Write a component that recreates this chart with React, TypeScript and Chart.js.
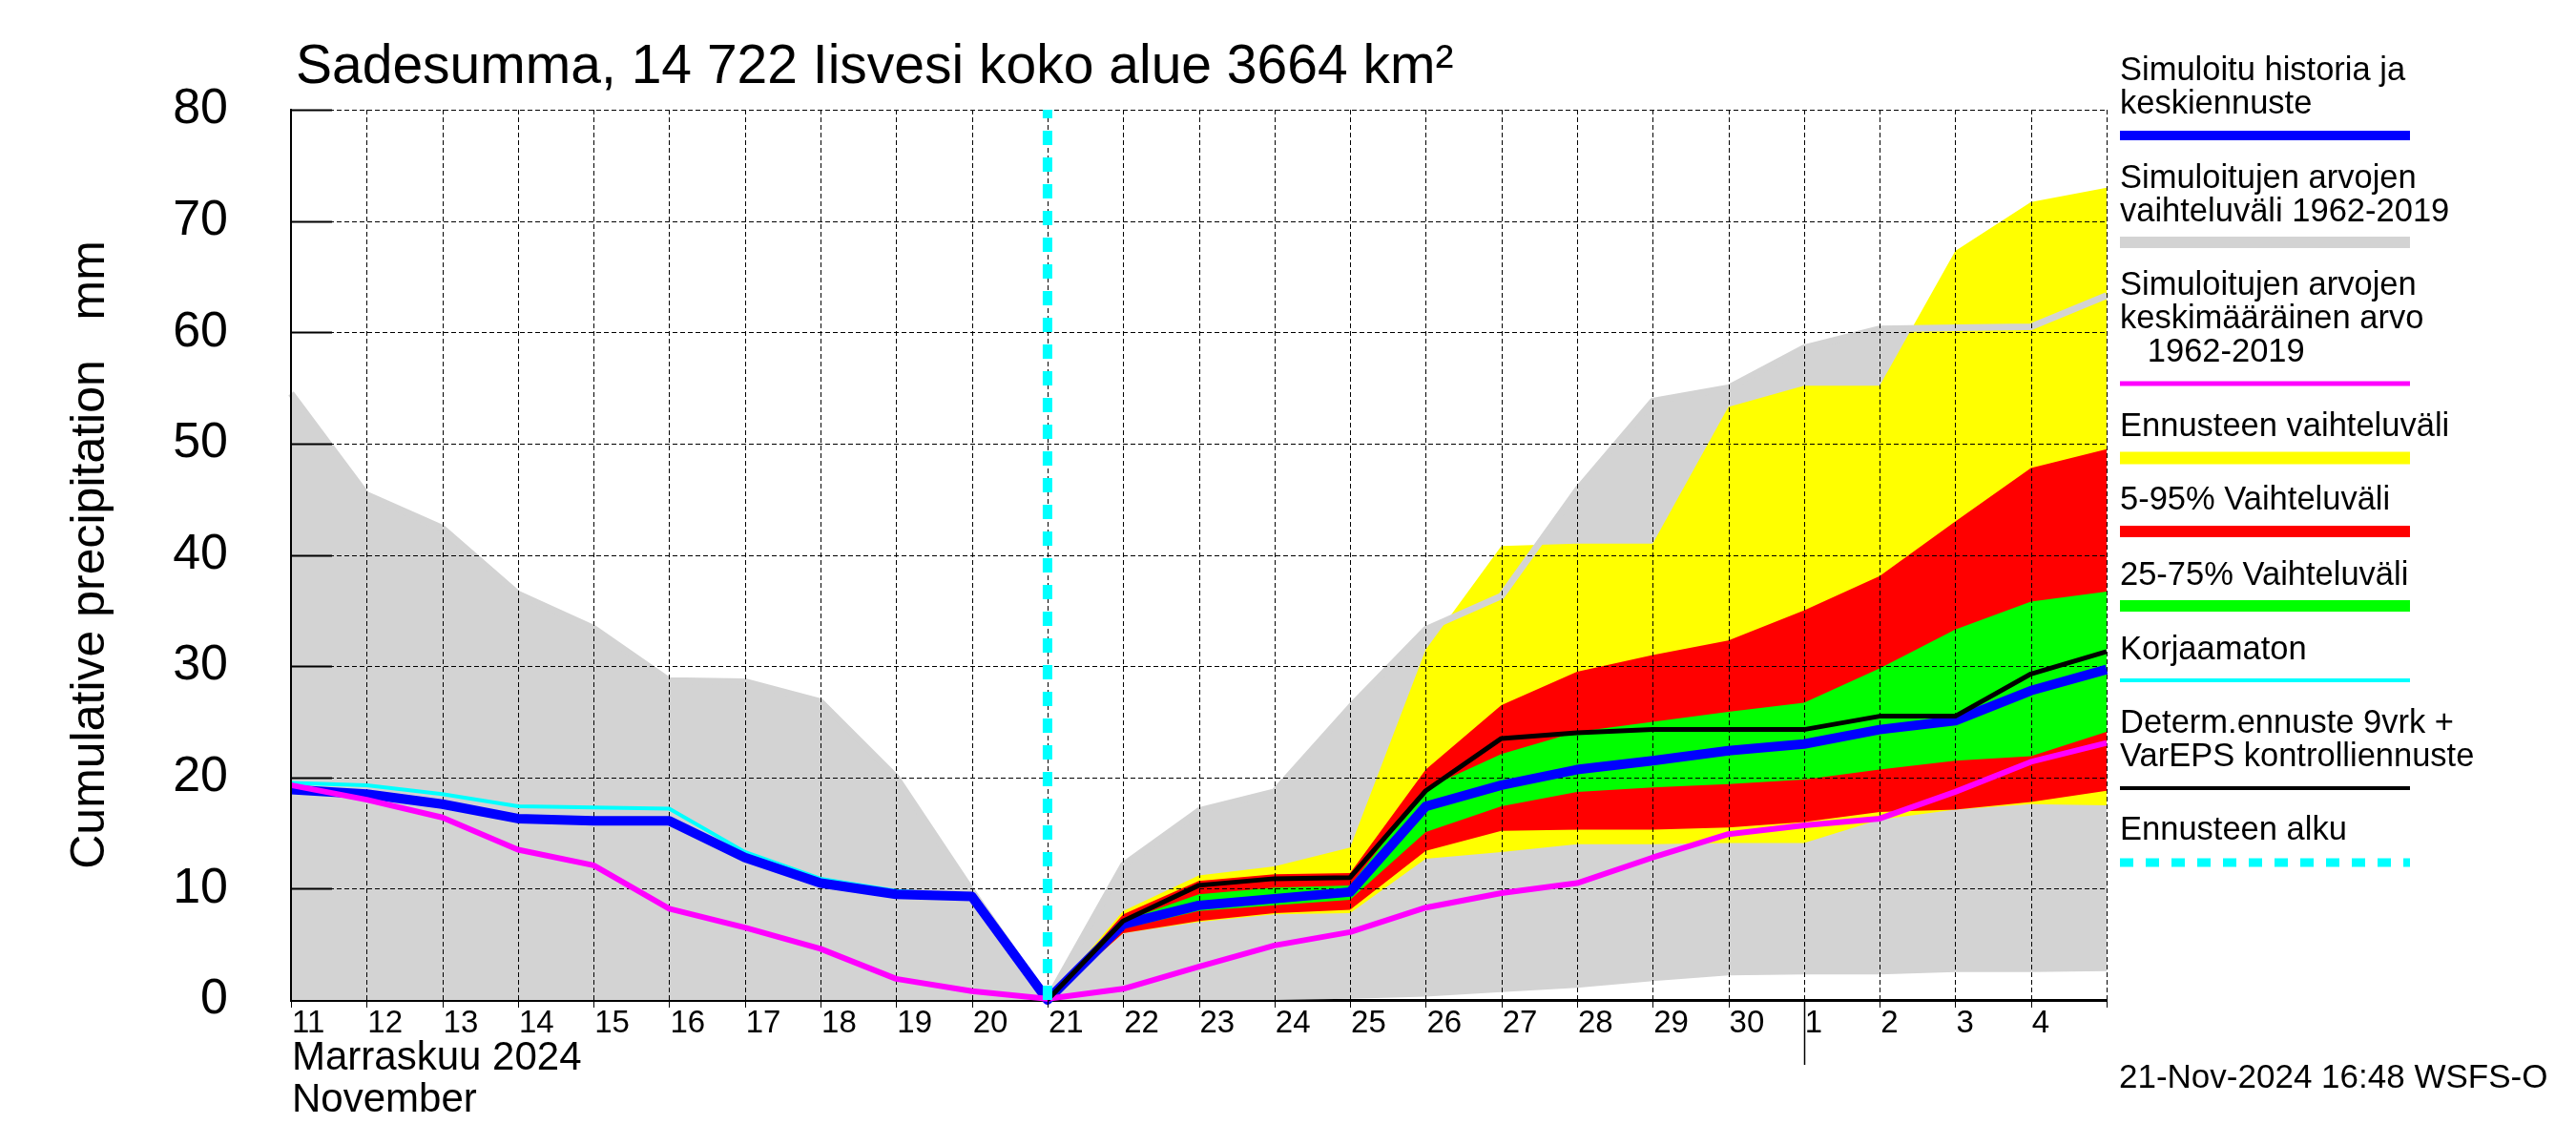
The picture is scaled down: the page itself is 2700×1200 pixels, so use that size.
import { useEffect, useRef } from 'react';
import { Chart, registerables } from 'chart.js';

Chart.register(...registerables);

const N = null;

// Day categories: 11 Nov 2024 .. 5 Dec 2024 (day boundaries)
const categories = ['11', '12', '13', '14', '15', '16', '17', '18', '19', '20', '21', '22', '23', '24', '25', '26', '27', '28', '29', '30', '1', '2', '3', '4', '5'];
const forecastStart = '21';
const monthStart = '1';
const yTicks = [0, 10, 20, 30, 40, 50, 60, 70, 80];

// Simulated range 1962-2019 (grey band)
const grayHigh = [54.5, 45.4, 42.4, 36.5, 33.4, 28.7, 28.6, 26.8, 20.0, 9.8, 0, 12.1, 17.0, 18.7, 26.3, 33.3, 36.3, 45.8, 53.8, 55.0, 58.6, 60.3, 60.4, 60.5, 63.3];
const grayLow = [0, 0, 0, 0, 0, 0, 0, 0, 0, 0, 0, 0, 0, 0, 0.1, 0.3, 0.7, 1.1, 1.7, 2.2, 2.3, 2.3, 2.5, 2.5, 2.6];
// Ensemble range (yellow)
const yellowHigh = [N, N, N, N, N, N, N, N, N, N, 0, 8.0, 11.2, 12.0, 13.7, 31.5, 40.8, 41.0, 41.0, 53.3, 55.2, 55.2, 67.3, 71.7, 73.0];
const yellowLow = [N, N, N, N, N, N, N, N, N, N, 0, 6.0, 7.0, 7.7, 7.8, 12.7, 13.3, 14.0, 14.0, 14.1, 14.1, 16.2, 17.1, 17.6, 17.5];
// 5-95 %
const redHigh = [N, N, N, N, N, N, N, N, N, N, 0, 7.7, 10.7, 11.3, 11.4, 20.7, 26.5, 29.5, 31.0, 32.3, 35.0, 38.1, 43.0, 47.8, 49.5];
const redLow = [N, N, N, N, N, N, N, N, N, N, 0, 6.0, 7.1, 7.8, 8.1, 13.4, 15.2, 15.3, 15.3, 15.5, 16.0, 16.9, 17.1, 17.8, 18.8];
// 25-75 %
const greenHigh = [N, N, N, N, N, N, N, N, N, N, 0, 7.1, 9.5, 10.1, 10.3, 19.0, 22.1, 24.1, 25.0, 25.9, 26.7, 29.8, 33.3, 35.8, 36.7];
const greenLow = [N, N, N, N, N, N, N, N, N, N, 0, 6.4, 8.0, 8.5, 9.0, 15.1, 17.4, 18.7, 19.1, 19.4, 19.8, 20.7, 21.5, 21.9, 24.1];
// Lines
const simulated = [18.9, 18.5, 17.6, 16.3, 16.1, 16.1, 12.8, 10.5, 9.5, 9.3, 0, 6.8, 8.5, 9.1, 9.7, 17.4, 19.3, 20.7, 21.5, 22.4, 23.0, 24.3, 25.1, 27.8, 29.7];
const uncorrected = [19.5, 19.3, 18.5, 17.4, 17.3, 17.2, 13.3, 10.9, 9.8, 9.4, 0, N, N, N, N, N, N, N, N, N, N, N, N, N, N];
const determ = [N, N, N, N, N, N, N, N, N, N, 0, 7.1, 10.3, 10.9, 11.0, 18.8, 23.5, 24.0, 24.3, 24.3, 24.3, 25.5, 25.5, 29.3, 31.3];
const meanValue = [19.3, 18.0, 16.4, 13.5, 12.1, 8.2, 6.5, 4.6, 1.9, 0.8, 0.1, 1.0, 3.0, 4.9, 6.1, 8.3, 9.6, 10.5, 12.8, 14.9, 15.7, 16.3, 18.7, 21.4, 23.1];

const titleText = 'Sadesumma, 14 722 Iisvesi koko alue 3664 km²';
const yTitle = 'Cumulative precipitation   mm';
const monthLabels = ['Marraskuu 2024', 'November'];
const stamp = '21-Nov-2024 16:48 WSFS-O';

const GRAY = '#d3d3d3';
const YELLOW = '#ffff00';
const RED = '#ff0000';
const GREEN = '#00ff00';
const BLUE = '#0000ff';
const MAGENTA = '#ff00ff';
const CYAN = '#00ffff';
const FONT = '"Liberation Sans", Arial, Helvetica, sans-serif';

const legendItems = [
  { lines: ['Simuloitu historia ja', 'keskiennuste'], color: BLUE, width: 10, dash: [] as number[] },
  { lines: ['Simuloitujen arvojen', 'vaihteluväli 1962-2019'], color: GRAY, width: 12, dash: [] as number[] },
  { lines: ['Simuloitujen arvojen', 'keskimääräinen arvo', '   1962-2019'], color: MAGENTA, width: 5, dash: [] as number[] },
  { lines: ['Ennusteen vaihteluväli'], color: YELLOW, width: 13, dash: [] as number[] },
  { lines: ['5-95% Vaihteluväli'], color: RED, width: 12, dash: [] as number[] },
  { lines: ['25-75% Vaihteluväli'], color: GREEN, width: 12, dash: [] as number[] },
  { lines: ['Korjaamaton'], color: CYAN, width: 4, dash: [] as number[] },
  { lines: ['Determ.ennuste 9vrk +', 'VarEPS kontrolliennuste'], color: '#000000', width: 4, dash: [] as number[] },
  { lines: ['Ennusteen alku'], color: CYAN, width: 9, dash: [14, 13] },
];

function lineDs(label: string, data: any[], color: string, width: number, order: number, extra: any = {}) {
  return {
    label,
    data,
    borderColor: color,
    backgroundColor: color,
    borderWidth: width,
    pointRadius: 0,
    pointHoverRadius: 0,
    tension: 0,
    fill: false,
    borderJoinStyle: 'round',
    borderCapStyle: 'butt',
    order,
    clip: false,
    ...extra,
  };
}

function lowDs(label: string, data: (number | null)[]) {
  return {
    label,
    data,
    borderWidth: 0,
    borderColor: 'rgba(0,0,0,0)',
    pointRadius: 0,
    pointHoverRadius: 0,
    tension: 0,
    fill: false,
    order: 20,
  };
}

function buildDatasets() {
  const ds: any[] = [];
  const add = (d: any) => { ds.push(d); return ds.length - 1; };
  const gLow = add(lowDs('grayLow', grayLow));
  const yLow = add(lowDs('yellowLow', yellowLow));
  const rLow = add(lowDs('redLow', redLow));
  const grLow = add(lowDs('greenLow', greenLow));
  add({ ...lowDs('grayHigh', grayHigh), fill: { target: gLow }, backgroundColor: GRAY, order: 9 });
  add({ ...lowDs('yellowHigh', yellowHigh), fill: { target: yLow }, backgroundColor: YELLOW, order: 8 });
  add({ ...lowDs('redHigh', redHigh), fill: { target: rLow }, backgroundColor: RED, order: 7 });
  add({ ...lowDs('greenHigh', greenHigh), fill: { target: grLow }, backgroundColor: GREEN, order: 6 });
  add(lineDs('grayLine', grayHigh, GRAY, 7, 5, { clip: undefined }));
  add(lineDs('Korjaamaton', uncorrected, CYAN, 4, 4));
  add(lineDs('Simuloitu', simulated, BLUE, 10, 3));
  add(lineDs('Keskiarvo', meanValue, MAGENTA, 6, 2));
  add(lineDs('Determ', determ, '#000000', 5, 1));
  add(lineDs('Ennusteen alku', [{ x: forecastStart, y: yTicks[0] }, { x: forecastStart, y: yTicks[yTicks.length - 1] }], CYAN, 10, 0, { borderDash: [15, 13] }));
  return ds;
}

const fmiPlugin = {
  id: 'fmiDecor',
  afterDatasetDraw(chart: any, args: any) {
    const ds = chart.data.datasets[args.index];
    if (ds.label !== 'grayLine') return;
    const { ctx, chartArea: a, scales } = chart;
    const x = scales.x;
    const y = scales.y;
    ctx.save();
    ctx.strokeStyle = '#000';
    ctx.lineWidth = 1;
    ctx.setLineDash([5, 3]);
    for (const v of yTicks) {
      if (v === 0) continue;
      const py = Math.round(y.getPixelForValue(v)) + 0.5;
      ctx.beginPath(); ctx.moveTo(a.left, py); ctx.lineTo(a.right, py); ctx.stroke();
    }
    for (let i = 1; i < categories.length; i++) {
      const px = Math.round(x.getPixelForValue(i)) + 0.5;
      ctx.beginPath(); ctx.moveTo(px, a.top); ctx.lineTo(px, a.bottom); ctx.stroke();
    }
    ctx.setLineDash([]);
    ctx.lineWidth = 2;
    for (const v of yTicks) {
      if (v === 0) continue;
      const py = Math.round(y.getPixelForValue(v)) + 0.5;
      ctx.beginPath(); ctx.moveTo(a.left, py); ctx.lineTo(a.left + 43, py); ctx.stroke();
    }
    ctx.restore();
  },
  afterDraw(chart: any) {
    const { ctx, chartArea: a, scales } = chart;
    const x = scales.x;
    ctx.save();
    ctx.strokeStyle = '#000';
    ctx.lineWidth = 2;
    ctx.beginPath(); ctx.moveTo(a.left, a.top); ctx.lineTo(a.left, a.bottom); ctx.stroke();
    ctx.lineWidth = 1;
    for (let i = 0; i < categories.length; i++) {
      const px = Math.round(x.getPixelForValue(i)) + 0.5;
      ctx.beginPath(); ctx.moveTo(px, a.bottom); ctx.lineTo(px, a.bottom + 8); ctx.stroke();
    }
    const mi = categories.indexOf(monthStart);
    const mx = Math.round(x.getPixelForValue(mi)) + 0.5;
    ctx.lineWidth = 1.5;
    ctx.beginPath(); ctx.moveTo(mx, a.bottom); ctx.lineTo(mx, a.bottom + 68); ctx.stroke();

    ctx.fillStyle = '#000';
    ctx.textBaseline = 'alphabetic';
    ctx.textAlign = 'left';
    ctx.font = `57px ${FONT}`;
    ctx.fillText(titleText, 310, 87);
    ctx.font = `42px ${FONT}`;
    ctx.fillText(monthLabels[0], a.left + 1, 1121);
    ctx.fillText(monthLabels[1], a.left + 1, 1165);
    ctx.font = `35px ${FONT}`;
    ctx.fillText(stamp, 2221, 1140);
    const lx = 2222;
    const lx2 = 2526;
    const baselines = [[84, 119], [197, 232], [309, 344, 379], [457], [534], [613], [691], [768, 803], [880]];
    const lineYs = [142, 254, 402, 480, 557, 635, 713, 826, 904];
    ctx.font = `34.5px ${FONT}`;
    legendItems.forEach((it, k) => {
      ctx.fillStyle = '#000';
      it.lines.forEach((t, j) => ctx.fillText(t, lx, baselines[k][j]));
      ctx.strokeStyle = it.color;
      ctx.lineWidth = it.width;
      ctx.setLineDash(it.dash);
      ctx.lineCap = 'butt';
      ctx.beginPath(); ctx.moveTo(lx, lineYs[k]); ctx.lineTo(lx2, lineYs[k]); ctx.stroke();
      ctx.setLineDash([]);
    });
    ctx.restore();
  },
};

export default function App() {
  const ref = useRef<HTMLCanvasElement>(null);
  useEffect(() => {
    document.body.style.margin = '0';
    const canvas = ref.current!;
    const chart = new Chart(canvas, {
      type: 'line',
      data: { labels: categories, datasets: buildDatasets() },
      options: {
        animation: false,
        responsive: false,
        devicePixelRatio: 1,
        events: [],
        layout: { padding: { top: 115, right: 492, left: 0, bottom: 0 } },
        plugins: { legend: { display: false }, tooltip: { enabled: false }, title: { display: false } },
        scales: {
          x: {
            type: 'category',
            offset: false,
            grid: { display: false },
            border: { display: true, color: '#000', width: 3 },
            afterFit: (s: any) => { s.height = 152; },
            ticks: {
              autoSkip: false,
              maxRotation: 0,
              minRotation: 0,
              align: 'start',
              labelOffset: 1,
              padding: -3,
              color: '#000',
              font: { size: 33, family: FONT },
              callback: (_v: any, i: number) => (i === categories.length - 1 ? '' : categories[i]),
            },
          },
          y: {
            min: yTicks[0],
            max: yTicks[yTicks.length - 1],
            grid: { display: false },
            border: { display: true, color: '#000', width: 2 },
            afterFit: (s: any) => { s.width = 305; },
            afterBuildTicks: (s: any) => { s.ticks = yTicks.map((v) => ({ value: v })); },
            ticks: {
              padding: 58,
              color: '#000',
              font: { size: 52, family: FONT },
            },
            title: {
              display: true,
              text: yTitle,
              color: '#000',
              font: { size: 50, family: FONT },
              padding: { top: 65, bottom: 0 },
            },
          },
        },
      },
      plugins: [fmiPlugin],
    } as any);
    return () => chart.destroy();
  }, []);
  return (
    <div style={{ position: 'absolute', left: 0, top: 0, width: 2700, height: 1200, background: '#fff' }}>
      <canvas ref={ref} width={2700} height={1200} style={{ width: 2700, height: 1200, display: 'block' }} />
    </div>
  );
}
